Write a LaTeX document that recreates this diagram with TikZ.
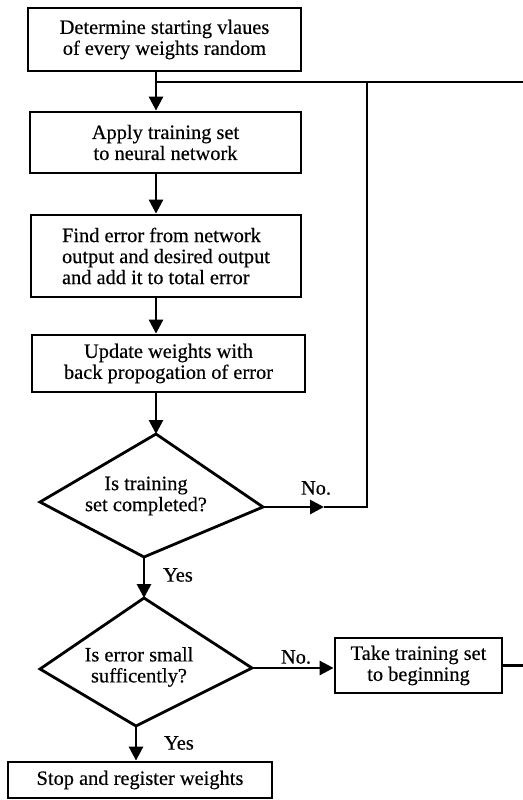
\documentclass[tikz,border=0pt]{standalone}
\usepackage{fontspec}
\setmainfont{Liberation Serif}[FakeBold=0.4]
\usetikzlibrary{arrows.meta}

\begin{document}
\begin{tikzpicture}[x=0.5pt,y=-0.5pt,line width=1.4pt,
  boite/.style={draw,inner sep=0pt,align=center,font=\fontsize{10.2}{10.5}\selectfont},
  txt/.style={inner sep=1pt,align=center,font=\fontsize{10.2}{10.5}\selectfont},
  fleche/.style={-{Triangle[length=7pt,width=7pt]}}]
\useasboundingbox (0,0) rectangle (523,800);

% Blocs
\node[boite,minimum width=136.5pt,minimum height=31.5pt] (init) at (164.5,39.5)
  {Determine starting vlaues\\of every weights random};
\node[boite,minimum width=135.5pt,minimum height=30.5pt] (apply) at (165.5,142.5)
  {Apply training set\\to neural network};
\node[boite,align=left,minimum width=135pt,minimum height=41pt] (finderr) at (166,256)
  {Find error from network\\output and desired output\\and add it to total error};
\node[boite,minimum width=136.5pt,minimum height=28.5pt] (update) at (168.5,363.5)
  {Update weights with\\back propogation of error};
\node[boite,minimum width=83.5pt,minimum height=27.5pt] (rewind) at (418.5,665.5)
  {Take training set\\to beginning};
\node[boite,minimum width=132pt,minimum height=18pt] (stop) at (140,780)
  {Stop and register weights};

% Losanges
\coordinate (d1n) at (156,434);
\coordinate (d1e) at (263,507);
\coordinate (d1s) at (144,557);
\coordinate (d1w) at (40,502);
\draw (d1n) -- (d1e) -- (d1s) -- (d1w) -- cycle;
\node[txt] (setdone) at (146,496) {Is training\\set completed?};

\coordinate (d2n) at (144,598);
\coordinate (d2e) at (252,668);
\coordinate (d2s) at (136,726);
\coordinate (d2w) at (40,669);
\draw (d2n) -- (d2e) -- (d2s) -- (d2w) -- cycle;
\node[txt] (errsmall) at (139,667) {Is error small\\sufficently?};

% Retour
\coordinate (jn) at (156,82);
\coordinate (retour) at (367,82);
\coordinate (sortie) at (523,82);
\coordinate (nopointe) at (324,507);
\draw (jn) -- (sortie);
\draw[fleche] (d1e) -- (nopointe);
\draw (nopointe) -- (retour |- d1e) -- (retour);
\draw (rewind.east) -- (rewind.east -| sortie);

% Fleches
\draw[fleche] (init.south -| jn) -- (apply.north -| jn);
\draw[fleche] (apply.south -| jn) -- (finderr.north -| jn);
\draw[fleche] (finderr.south -| jn) -- (update.north -| jn);
\draw[fleche] (update.south -| d1n) -- (d1n);
\draw[fleche] (d1s) -- (d2n);
\draw[fleche] (d2e) -- (rewind.west |- d2e);
\draw[fleche] (d2s) -- (stop.north -| d2s);

% Etiquettes
\node[txt] (no1) at (316,488) {No.};
\node[txt] (yes1) at (178,575) {Yes};
\node[txt] (no2) at (296,657) {No.};
\node[txt] (yes2) at (179,743) {Yes};

\end{tikzpicture}
\end{document}
